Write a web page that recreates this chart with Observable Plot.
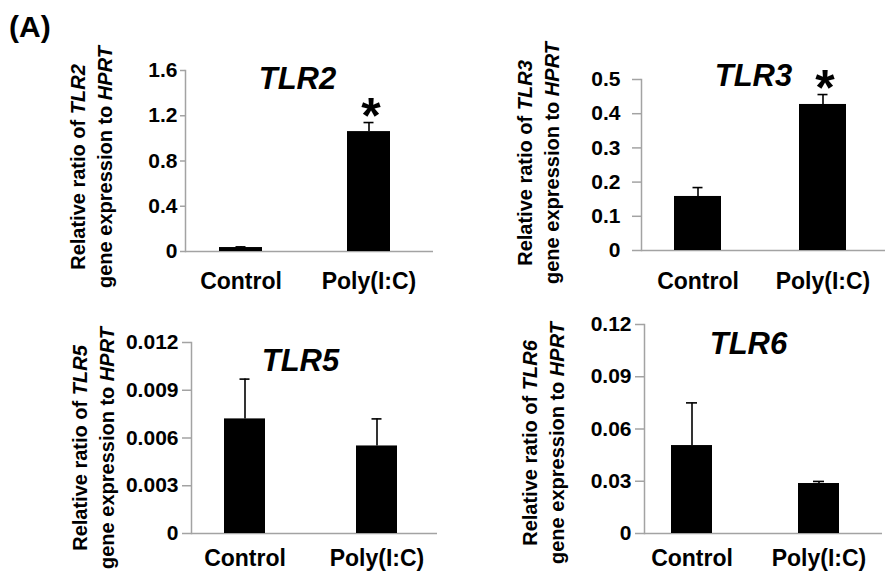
<!DOCTYPE html>
<html><head><meta charset="utf-8">
<script src="https://cdn.jsdelivr.net/npm/d3@7"></script>
<script src="https://cdn.jsdelivr.net/npm/@observablehq/plot@0.6"></script>
<style>
body{margin:0;background:#fff;font-family:"Liberation Sans",Arial,sans-serif;}
#wrap{position:relative;width:885px;height:585px;overflow:hidden;background:#fff;}
.panel{position:absolute;}
#lab{position:absolute;left:9px;top:12px;font-weight:bold;font-size:30px;line-height:1;}
</style></head><body>
<div id="wrap"><div id="lab">(A)</div></div>
<script>
// ---- data ----
const groups = ["Control", "Poly(I:C)"];
const genes = ["TLR2", "TLR3", "TLR5", "TLR6"];
const tlr2Mean = [0.035, 1.06];
const tlr2Err  = [0.006, 0.08];
const tlr2Sig  = [false, true];
const tlr3Mean = [0.158, 0.427];
const tlr3Err  = [0.026, 0.029];
const tlr3Sig  = [false, true];
const tlr5Mean = [0.0072, 0.0055];
const tlr5Err  = [0.0025, 0.0017];
const tlr5Sig  = [false, false];
const tlr6Mean = [0.0505, 0.0287];
const tlr6Err  = [0.0245, 0.0012];
const tlr6Sig  = [false, false];
const tlr2Ticks = [0, 0.4, 0.8, 1.2, 1.6];
const tlr2TickLabels = ["0", "0.4", "0.8", "1.2", "1.6"];
const tlr3Ticks = [0, 0.1, 0.2, 0.3, 0.4, 0.5];
const tlr3TickLabels = ["0", "0.1", "0.2", "0.3", "0.4", "0.5"];
const tlr5Ticks = [0, 0.003, 0.006, 0.009, 0.012];
const tlr5TickLabels = ["0", "0.003", "0.006", "0.009", "0.012"];
const tlr6Ticks = [0, 0.03, 0.06, 0.09, 0.12];
const tlr6TickLabels = ["0", "0.03", "0.06", "0.09", "0.12"];
const yLabelLine1 = "Relative ratio of ";
const yLabelLine2 = "gene expression to ";
const refGene = "HPRT";

// ---- layout / style ----
const GREY = "#a3a3a3";
const FONT = "Liberation Sans, Arial, sans-serif";
const panels = [
  {gene: genes[0], mean: tlr2Mean, err: tlr2Err, sig: tlr2Sig, ticks: tlr2Ticks, labels: tlr2TickLabels,
   left: 0, top: 0, w: 445, h: 290, ml: 185, mr: 12, mt: 70, mb: 39,
   pi: 0.667, po: 0.295, al: 0.434, ts: 5, tp: 3, xp: 21, capInset: 16.5,
   tdx: -12, tdy: -4, lx: 85, ly: 167},
  {gene: genes[1], mean: tlr3Mean, err: tlr3Err, sig: tlr3Sig, ticks: tlr3Ticks, labels: tlr3TickLabels,
   left: 445, top: 0, w: 440, h: 290, ml: 196, mr: 0, mt: 79, mb: 40,
   pi: 0.627, po: 0.282, al: 0.45, ts: 9, tp: 12, xp: 22, capInset: 18.5,
   tdx: -10, tdy: -16, lx: 87, ly: 163},
  {gene: genes[2], mean: tlr5Mean, err: tlr5Err, sig: tlr5Sig, ticks: tlr5Ticks, labels: tlr5TickLabels,
   left: 0, top: 290, w: 445, h: 295, ml: 191, mr: 8, mt: 52, mb: 52,
   pi: 0.692, po: 0.271, al: 0.444, ts: 9, tp: 4, xp: 16, capInset: 15.5,
   tdx: -14, tdy: 6, lx: 87, ly: 158},
  {gene: genes[3], mean: tlr6Mean, err: tlr6Err, sig: tlr6Sig, ticks: tlr6Ticks, labels: tlr6TickLabels,
   left: 445, top: 290, w: 440, h: 295, ml: 199, mr: 3, mt: 34, mb: 52,
   pi: 0.681, po: 0.276, al: 0.386, ts: 9, tp: 4, xp: 16, capInset: 15,
   tdx: -15, tdy: 7, lx: 92, ly: 153}
];

const wrap = document.getElementById("wrap");
for (const cfg of panels) {
  const data = groups.map((g, i) => ({group: g, mean: cfg.mean[i], top: cfg.mean[i] + cfg.err[i], sig: cfg.sig[i]}));
  const ymax = cfg.ticks[cfg.ticks.length - 1];
  const chart = Plot.plot({
    width: cfg.w, height: cfg.h,
    marginLeft: cfg.ml, marginRight: cfg.mr, marginTop: cfg.mt, marginBottom: cfg.mb,
    style: {background: "transparent", fontFamily: FONT, overflow: "visible", color: "black"},
    x: {domain: groups, paddingInner: cfg.pi, paddingOuter: cfg.po, align: cfg.al, label: null},
    y: {domain: [0, ymax], label: null},
    marks: [
      Plot.frame({anchor: "left", stroke: GREY, strokeWidth: 1.5}),
      Plot.ruleY([0], {stroke: GREY, strokeWidth: 1.5}),
      Plot.axisY({ticks: cfg.ticks, tickFormat: d => cfg.labels[cfg.ticks.indexOf(d)],
        tickSize: cfg.ts, tickPadding: cfg.tp, stroke: GREY, strokeWidth: 1.5, fill: "black",
        fontSize: 21, fontWeight: "bold", label: null}),
      Plot.axisX({tickSize: 0, tickPadding: cfg.xp, fontSize: 23, fontWeight: "bold", label: null, fill: "black"}),
      Plot.ruleX(data, {x: "group", y1: "mean", y2: "top", stroke: "black", strokeWidth: 1.6}),
      Plot.tickY(data, {x: "group", y: "top", stroke: "black", strokeWidth: 1.6,
        insetLeft: cfg.capInset, insetRight: cfg.capInset}),
      Plot.barY(data, {x: "group", y: "mean", fill: "black"}),
      Plot.text(data.filter(d => d.sig), {x: "group", y: "top", text: () => "*",
        fontSize: 50, fontWeight: "bold", dy: -6, dx: 2, fill: "black"}),
      Plot.text([cfg.gene], {frameAnchor: "top", text: d => d, dx: cfg.tdx, dy: cfg.tdy,
        fontSize: 31, fontWeight: "bold", fontStyle: "italic", fill: "black"})
    ]
  });
  chart.classList.add("panel");
  chart.style.left = cfg.left + "px";
  chart.style.top = cfg.top + "px";
  const t = d3.select(chart).append("text")
    .attr("transform", `translate(${cfg.lx},${cfg.ly}) rotate(-90)`)
    .attr("text-anchor", "middle").attr("font-size", 20).attr("font-weight", "bold")
    .attr("font-family", FONT).attr("fill", "black");
  const l1 = t.append("tspan").attr("x", 0).attr("y", 0);
  l1.append("tspan").text(yLabelLine1);
  l1.append("tspan").attr("font-style", "italic").text(cfg.gene);
  const l2 = t.append("tspan").attr("x", 0).attr("y", 27);
  l2.append("tspan").text(yLabelLine2);
  l2.append("tspan").attr("font-style", "italic").text(refGene);
  wrap.appendChild(chart);
}
</script>
</body></html>
